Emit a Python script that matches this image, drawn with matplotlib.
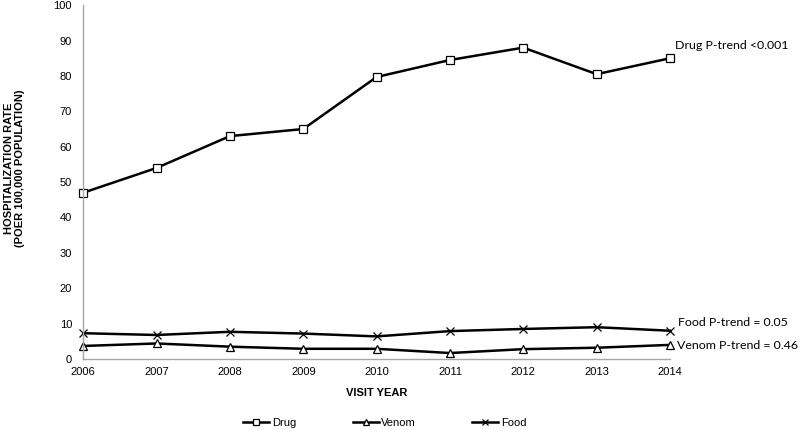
import matplotlib
matplotlib.use("Agg")
import matplotlib.pyplot as plt

years = [2006, 2007, 2008, 2009, 2010, 2011, 2012, 2013, 2014]
drug = [47.0, 54.0, 63.0, 65.0, 79.7, 84.5, 88.0, 80.5, 85.0]
venom = [3.7, 4.4, 3.5, 2.9, 2.9, 1.7, 2.8, 3.2, 4.0]
food = [7.3, 6.8, 7.7, 7.2, 6.4, 7.9, 8.5, 9.0, 8.0]
yticks = [0, 10, 20, 30, 40, 50, 60, 70, 80, 90, 100]

plt.rcParams['font.family'] = ['Liberation Sans', 'DejaVu Sans']

fig = plt.figure(figsize=(8, 4.3), dpi=100)
ax = fig.add_axes([0.104, 0.165, 0.7335, 0.823])

lw = 1.8
ax.plot(years, drug, color='black', lw=lw, marker='s', ms=5.2, mfc='white', mec='black', mew=0.9, label='Drug', clip_on=False)
ax.plot(years, venom, color='black', lw=lw, marker='^', ms=5.5, mfc='white', mec='black', mew=0.9, label='Venom', clip_on=False)
ax.plot(years, food, color='black', lw=lw, marker='x', ms=6, mec='black', mew=0.9, label='Food', clip_on=False)

ax.set_xlim(2006, 2014)
ax.set_ylim(0, 100)
ax.set_xticks(years)
ax.set_yticks(yticks)
ax.tick_params(axis='both', length=0, labelsize=8)
ax.tick_params(axis='y', pad=8)
ax.tick_params(axis='x', pad=6)
for s in ['top', 'right']:
    ax.spines[s].set_visible(False)
for s in ['left', 'bottom']:
    ax.spines[s].set_color('#a6a6a6')
    ax.spines[s].set_linewidth(1.0)

ax.set_xlabel('VISIT YEAR', fontsize=8, fontweight='bold', labelpad=8)
ax.set_ylabel('HOSPITALIZATION RATE\n(POER 100,000 POPULATION)', fontsize=8, fontweight='bold',
              linespacing=1.1)
ax.yaxis.set_label_coords(-0.1, 0.538)

afont = ['Lato', 'DejaVu Sans']
asize = 8.9
ax.annotate('Drug P-trend <0.001', xy=(years[-1], drug[-1]), xytext=(3.5, 9), textcoords='offset points',
            ha='left', va='center', fontsize=asize, family=afont, annotation_clip=False)
ax.annotate('Food P-trend = 0.05', xy=(years[-1], food[-1]), xytext=(6, 6), textcoords='offset points',
            ha='left', va='center', fontsize=asize, family=afont, annotation_clip=False)
ax.annotate('Venom P-trend = 0.46', xy=(years[-1], venom[-1]), xytext=(5, -0.5), textcoords='offset points',
            ha='left', va='center', fontsize=asize, family=afont, annotation_clip=False)

fig.legend(loc='center', bbox_to_anchor=(0.481, 0.016), ncol=3, frameon=False, fontsize=8,
           handlelength=2.35, columnspacing=5.1, handletextpad=0.2, markerscale=0.7,
           borderpad=0, borderaxespad=0)

fig.savefig('out.png', dpi=100)
